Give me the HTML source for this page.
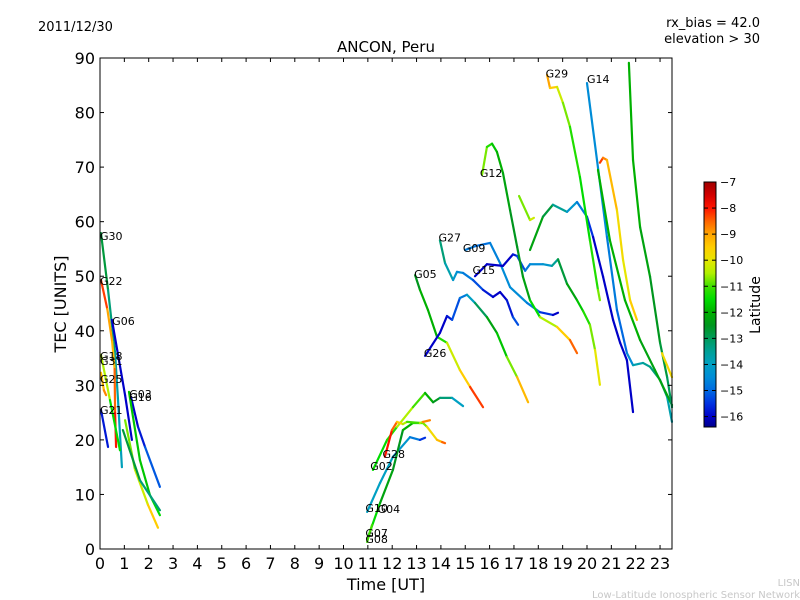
<!DOCTYPE html>
<html><head><meta charset="utf-8"><style>
html,body{margin:0;padding:0;background:#fff;}
svg{display:block;font-family:"DejaVu Sans","Liberation Sans",sans-serif;}
</style></head><body>
<svg id="chart" width="800" height="600">
<defs><linearGradient id="cmap" x1="0" y1="0" x2="0" y2="1"></linearGradient></defs>
<text x="38" y="31" font-size="13">2011/12/30</text>
<text x="760" y="27" font-size="13" text-anchor="end">rx_bias = 42.0</text>
<text x="760" y="43" font-size="13" text-anchor="end">elevation &gt; 30</text>
<text x="386" y="52" font-size="15" text-anchor="middle">ANCON, Peru</text>
<text x="386" y="590" font-size="16" text-anchor="middle">Time [UT]</text>
<text x="66" y="304" font-size="16" text-anchor="middle" transform="rotate(-90 66 304)">TEC [UNITS]</text>
<text x="800" y="586" font-size="10" fill="#c8c8c8" text-anchor="end">LISN</text>
<text x="800" y="598" font-size="10" fill="#c8c8c8" text-anchor="end">Low-Latitude Ionospheric Sensor Network</text>
<g id="plot"></g>
<g id="axes"></g>
<rect x="704" y="182" width="12" height="245" fill="url(#cmap)" stroke="#000" stroke-width="1"/>
<g id="cbar"></g>
<text x="760" y="305" font-size="14" text-anchor="middle" transform="rotate(-90 760 305)">Latitude</text>
</svg>
<script>
const trackNames=["G30","G22","G06","G16","G03","G03b","G03c","G18","G25","G21","G05","G26","G27","G09","G15","G12","G12b","G20","G14","G14b","G29","G24","G13","G13b","G10","G04","G02","G28","G08"];
const trackTimes=[
[0.04,0.33,0.62,0.74,0.90],
[0.04,0.3,0.5,0.6,0.62,0.66],
[0.49,1.03,1.31],
[1.27,1.56,1.85,2.46],
[1.19,1.64,2.05,2.46],
[1.03,1.44,1.97,2.38],
[0.94,1.64,2.46],
[0.04,0.41,0.82],
[0.04,0.16,0.25],
[0.04,0.33],
[12.94,13.14,13.47,13.84,14.25,14.78,15.20,15.73],
[13.35,13.96,14.25,14.46,14.78,15.07,15.40,15.89,16.30,16.71,17.13,17.58],
[13.96,14.17,14.50,14.66,14.91,15.32,15.73,16.14,16.43,16.71,16.96,17.17],
[14.99,15.40,16.02,16.43,16.84,17.54,18.07,18.60,18.81],
[15.40,15.89,16.55,16.96,17.13,17.46,17.66,18.19,18.56,18.81,19.18,19.59,19.84,20.12,20.33,20.53],
[15.69,15.89,16.10,16.30,16.55,16.84,17.13,17.37,17.66,18.07,18.77,19.30,19.59],
[17.21,17.66,17.82],
[17.66,18.19,18.60,19.18,19.59,20.00,20.25,20.66,21.07,21.36,21.64,21.89],
[20.00,20.41,20.82,21.23,21.64,21.89,22.30,22.59,23.00,23.29,23.49],
[20.45,20.94,21.56,22.18,22.79,23.49],
[18.36,18.48,18.77,19.01,19.30,19.71,20.12,20.45,20.53],
[20.53,20.66,20.82,21.23,21.48,21.77,22.05],
[21.72,21.89,22.18,22.59,23.00,23.29,23.49],
[23.08,23.49],
[10.97,11.50,12.03,12.73,13.14,13.35],
[11.01,11.50,12.03,12.44,12.85,13.26,13.43,13.84,14.05,14.17],
[11.21,11.79,12.20,12.85,13.35,13.68,13.96,14.46,14.91],
[11.70,11.99,12.20,12.44,12.61,13.14,13.26,13.55],
[10.97,11.17]];
const trackTec=[
[57.9,47.5,35.9,27.3,15.0],
[49.3,44,38,33,25,18.7],
[42,28.2,20],
[27.9,22.4,18.7,11.4],
[28.8,16.3,9.9,6.2],
[23.6,14.5,8.1,3.9],
[21.8,12.6,7.1],
[35.6,27.3,18.1],
[32.3,29.1,28.2],
[25.5,18.7],
[50.2,47.5,43.8,38.9,37.8,32.8,29.7,26.0],
[35.4,39.6,42.7,42.0,46.0,46.6,45.1,42.5,39.6,35.2,31.5,26.9],
[56.6,52.4,49.3,50.8,50.6,49.3,47.5,46.2,47.1,45.6,42.5,41.1],
[54.8,55.5,56.1,52.4,48.0,45.1,43.4,42.9,43.3],
[50.0,52.2,51.9,54.0,53.7,51.0,52.2,52.2,51.9,53.1,48.6,45.6,43.6,41.1,36.5,30.1],
[68.6,73.7,74.3,72.8,68.9,62.1,55.4,49.9,45.6,42.5,40.7,38.3,35.9],
[64.7,60.3,60.7],
[54.8,60.9,63.1,61.8,63.6,60.9,57.2,49.9,42.0,37.8,34.6,25.1],
[85.4,71.3,57.2,43.8,35.9,33.7,34.1,33.4,31.0,27.9,23.3],
[69.5,56.6,45.6,38.3,32.8,26.4],
[86.9,84.5,84.7,81.8,77.4,68.2,56.6,47.5,45.6],
[70.8,71.7,71.3,62.1,53.0,45.6,42.0],
[89.1,71.3,59.0,49.9,37.8,31.5,26.0],
[35.9,31.5],
[6.8,12.1,16.9,20.5,20.0,20.4],
[2.2,8.4,14.5,21.8,23.1,23.1,22.4,20.0,19.6,19.4],
[14.5,20.0,22.4,26.0,28.6,26.9,27.7,27.7,26.2],
[16.9,21.8,23.3,22.9,23.3,23.1,23.3,23.6],
[1.3,4.4]];
const trackLat=[
[-12.5,-13,-13.5,-13.8,-14],
[-8,-8.5,-9.5,-9,-8,-8],
[-16,-16,-16],
[-16,-16,-15.5,-14.8],
[-12,-11.5,-12,-11],
[-11,-10.5,-10,-9],
[-12.5,-13,-13.5],
[-10,-11,-12],
[-9.5,-9,-8.5],
[-16,-15.5],
[-13,-12,-12,-12,-10.5,-10,-9,-7.5],
[-16,-16,-16,-15.5,-15,-14.5,-13.5,-12.5,-12,-11.5,-10,-8.5],
[-13,-13.5,-14,-14.5,-14.5,-15,-15.5,-16,-16,-16,-15.5,-15],
[-14.5,-15,-14.8,-14.5,-14.5,-14.5,-15,-16,-16],
[-16,-16,-16,-16,-15.5,-15,-14.5,-14.5,-14,-13,-12.5,-12,-11.5,-11,-10.5,-9.5],
[-10.5,-11,-11.5,-12,-12,-12.5,-12.5,-12.5,-12,-11,-10,-9,-8],
[-11,-10.5,-10],
[-12,-12.5,-13,-14,-14.5,-15,-16,-16,-16,-16,-16,-16],
[-14.5,-14.5,-14.5,-15,-15,-14,-13.5,-13.5,-13,-13.5,-14],
[-12,-12,-12,-12,-12.5,-12],
[-9,-9,-10,-10.5,-11,-11.5,-11.5,-11,-10.5],
[-8,-8.5,-9,-9.5,-10,-10,-9],
[-12,-12,-12,-12.5,-12.5,-13,-13],
[-9.5,-10],
[-14,-14,-14,-14.5,-15,-16],
[-11,-12,-12.5,-12.5,-11.5,-11.5,-10,-9.5,-9,-8],
[-11.5,-11.5,-11,-10,-12,-12,-13,-13.5,-14.5],
[-8,-8,-9,-10,-11,-11,-10,-7.5],
[-11,-11]];
const labelNames=["G30","G22","G06","G18","G31","G25","G21","G03","G16","G05","G27","G09","G15","G26","G12","G29","G14","G28","G02","G10","G04","G07","G08"];
const labelT=[0,0,0.5,0,0,0,0,1.2,1.2,12.9,13.9,14.9,15.3,13.3,15.6,18.3,20.0,11.6,11.1,10.9,11.4,10.9,10.9];
const labelTec=[56.6,48.4,41.1,34.6,33.7,30.4,24.7,27.7,27.1,49.7,56.4,54.4,50.4,35.2,68.2,86.4,85.4,16.7,14.5,6.8,6.6,2.2,1.1];
const xTicks=[0,1,2,3,4,5,6,7,8,9,10,11,12,13,14,15,16,17,18,19,20,21,22,23];
const yTicks=[0,10,20,30,40,50,60,70,80,90];
const cbTicks=[-7,-8,-9,-10,-11,-12,-13,-14,-15,-16];

const X0=100,X1=672,Y0=549,Y1=58,PXH=24.35;
const xs=t=>X0+t*PXH;
const ys=v=>Y0-(v/90)*(Y0-Y1);
const LMAX=-7,LMIN=-16.4;
const cy=l=>182+(LMAX-l)/(LMAX-LMIN)*245;
const stopLat=[-7,-7.5,-8,-8.5,-9,-9.5,-10,-10.5,-11,-11.5,-12,-12.5,-13,-13.5,-14,-14.5,-15,-15.5,-16,-16.4];
const stopRGB=[[160,0,0],[210,0,0],[255,20,0],[255,100,0],[255,165,0],[255,205,0],[230,230,0],[176,240,0],[64,224,0],[0,220,0],[0,176,0],[0,150,30],[0,155,90],[0,160,150],[0,160,195],[0,140,215],[0,105,225],[0,50,225],[0,0,200],[0,0,140]];
function cmap(l){
 if(l>=stopLat[0])return `rgb(${stopRGB[0]})`;
 for(let i=0;i<stopLat.length-1;i++){
  if(l<=stopLat[i]&&l>=stopLat[i+1]){const f=(stopLat[i]-l)/(stopLat[i]-stopLat[i+1]);
   const c=stopRGB[i].map((v,k)=>Math.round(v+(stopRGB[i+1][k]-v)*f));return `rgb(${c})`;}
 }
 return `rgb(${stopRGB[stopRGB.length-1]})`;
}
const NS="http://www.w3.org/2000/svg";
function mk(tag,attrs,parent){const e=document.createElementNS(NS,tag);for(const k in attrs)e.setAttribute(k,attrs[k]);parent.appendChild(e);return e;}
const grad=document.getElementById('cmap');
stopLat.forEach((l,i)=>mk('stop',{offset:(LMAX-l)/(LMAX-LMIN),'stop-color':`rgb(${stopRGB[i]})`},grad));
const plot=document.getElementById('plot'),axes=document.getElementById('axes'),cbar=document.getElementById('cbar');
trackNames.forEach((n,i)=>{
 const g=mk('g',{},plot);
 
 
 const T=trackTimes[i],V=trackTec[i],L=trackLat[i];
 for(let j=0;j<T.length-1;j++){
  const ln=mk('line',{x1:xs(T[j]),y1:ys(V[j]),x2:xs(T[j+1]),y2:ys(V[j+1]),stroke:cmap((L[j]+L[j+1])/2),'stroke-width':2.2,'stroke-linecap':'round'},g);
  
  
 }
});
labelNames.forEach((n,i)=>{
 const t=mk('text',{x:xs(labelT[i]),y:ys(labelTec[i]),'font-size':11},plot);
 t.textContent=n;
 
 
});
const fr=mk('rect',{x:X0,y:Y1,width:X1-X0,height:Y0-Y1,fill:'none',stroke:'#000','stroke-width':1},axes);


xTicks.forEach(v=>{const x=xs(v);
 mk('line',{x1:x,y1:Y0,x2:x,y2:Y0-4,stroke:'#000'},axes);
 mk('line',{x1:x,y1:Y1,x2:x,y2:Y1+4,stroke:'#000'},axes);
 const t=mk('text',{x:x,y:Y0+20,'font-size':16,'text-anchor':'middle'},axes);t.textContent=v;
 
 
});
yTicks.forEach(v=>{const y=ys(v);
 mk('line',{x1:X0,y1:y,x2:X0+4,y2:y,stroke:'#000'},axes);
 mk('line',{x1:X1,y1:y,x2:X1-4,y2:y,stroke:'#000'},axes);
 const t=mk('text',{x:X0-5,y:y+6,'font-size':16,'text-anchor':'end'},axes);t.textContent=v;
 
 
});
cbTicks.forEach(v=>{const y=cy(v);
 mk('line',{x1:704,y1:y,x2:708,y2:y,stroke:'#000'},cbar);
 mk('line',{x1:716,y1:y,x2:712,y2:y,stroke:'#000'},cbar);
 const t=mk('text',{x:720,y:y+4,'font-size':11},cbar);t.textContent='\u2212'+Math.abs(v);
 
 
});
</script>
</body></html>
